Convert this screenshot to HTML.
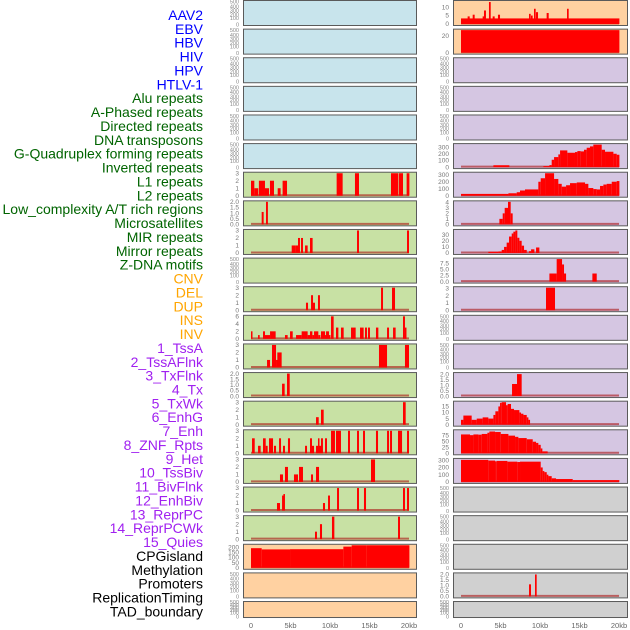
<!DOCTYPE html>
<html><head><meta charset="utf-8"><style>
html,body{margin:0;padding:0;background:#fff;width:630px;height:630px;overflow:hidden}
svg{display:block}
text{font-family:"Liberation Sans",sans-serif}
</style></head><body>
<svg id="chart" width="630" height="630" viewBox="0 0 630 630" xmlns="http://www.w3.org/2000/svg">
<g id="labels"></g>
<g id="panels"></g>
<g id="xaxes"></g>
</svg>
<script>
// ---- track names ----
const trackNames = ["AAV2","EBV","HBV","HIV","HPV","HTLV-1","Alu repeats","A-Phased repeats","Directed repeats","DNA transposons","G-Quadruplex forming repeats","Inverted repeats","L1 repeats","L2 repeats","Low_complexity A/T rich regions","Microsatellites","MIR repeats","Mirror repeats","Z-DNA motifs","CNV","DEL","DUP","INS","INV","1_TssA","2_TssAFlnk","3_TxFlnk","4_Tx","5_TxWk","6_EnhG","7_Enh","8_ZNF_Rpts","9_Het","10_TssBiv","11_BivFlnk","12_EnhBiv","13_ReprPC","14_ReprPCWk","15_Quies","CPGisland","Methylation","Promoters","ReplicationTiming","TAD_boundary"];
const trackGroups = ["virus","virus","virus","virus","virus","virus","repeat","repeat","repeat","repeat","repeat","repeat","repeat","repeat","repeat","repeat","repeat","repeat","repeat","sv","sv","sv","sv","sv","chrom","chrom","chrom","chrom","chrom","chrom","chrom","chrom","chrom","chrom","chrom","chrom","chrom","chrom","chrom","other","other","other","other","other"];
const xTicks = [0,5,10,15,20];
const xTickLabels = ["0","5kb","10kb","15kb","20kb"];

// ---- series data: [startKb, endKb, value] ----
const aluRepeats = [[0,0.42,2],[0.42,0.92,1],[1.0,1.77,2],[1.77,2.28,1],[2.4,2.91,2],[3.38,3.75,1],[4.0,4.56,2],[10.84,11.6,3],[13.16,13.67,3],[17.72,18.65,3],[18.73,19.24,3],[19.7,20.05,3]];
const aPhased = [[1.35,1.6,1.1],[1.9,2.14,2]];
const directedRepeats = [[5.15,5.65,1],[5.65,5.95,1],[5.95,6.2,2],[6.33,6.58,2],[6.84,7.17,1],[7.47,7.8,2],[13.42,13.67,3],[19.75,20.0,3]];
const gQuad = [[6.96,7.22,1],[7.6,7.85,2],[7.85,8.1,1],[8.48,8.73,2],[16.46,16.71,3],[17.85,18.23,3]];
const invertedRepeats = [[0,0.15,2],[0.89,1.1,1],[1.52,1.77,2],[1.77,2.41,1],[2.41,3.12,2],[4.3,4.64,1],[4.94,5.28,2],[5.7,6.41,1],[6.41,7.17,2],[7.17,7.47,1],[7.47,7.77,2],[7.77,7.98,1],[7.98,8.52,2],[8.52,8.78,1],[8.86,9.37,2],[9.37,9.5,1],[9.5,9.87,2],[9.87,10.04,1],[10.13,10.46,6],[10.76,11.06,3],[11.39,11.73,3],[12.66,13.25,3],[13.8,14.26,3],[14.43,14.68,3],[14.81,15.06,3],[15.82,16.12,3],[17.22,17.47,3],[17.98,18.31,3],[19.24,19.49,6],[19.49,19.66,3]];
const l1Repeats = [[2.03,2.41,1],[2.66,3.17,3],[3.17,3.33,1],[3.33,3.88,2],[16.2,17.22,3],[19.49,20.0,3]];
const l2Repeats = [[3.93,4.26,1.1],[4.56,4.9,2]];
const lowComplexity = [[8.23,8.57,1],[8.86,9.2,2],[19.24,19.58,3]];
const microsatellites = [[0.13,0.47,2],[0.89,1.22,1],[1.52,1.86,2],[1.86,2.11,1],[2.28,2.79,2],[2.91,3.17,1],[3.55,3.8,2],[4.05,4.3,1],[4.68,4.94,2],[6.84,7.09,1],[7.47,7.72,2],[7.72,7.98,1],[8.23,8.48,1],[8.48,8.61,2],[8.61,8.86,1],[8.86,9.11,2],[9.37,9.62,2],[10.13,10.63,3],[10.76,11.39,3],[12.28,12.53,3],[13.42,13.67,3],[14.18,14.43,3],[15.82,16.08,3],[17.22,17.47,3],[17.6,17.85,3],[18.61,19.12,3],[19.75,20.0,3]];
const mirRepeats = [[3.67,4.05,1],[4.3,4.68,2],[5.44,5.95,1],[6.08,6.58,2],[7.6,7.85,1],[8.23,8.61,2],[15.19,15.7,3]];
const mirrorRepeats = [[3.29,3.67,1],[3.93,4.1,2],[4.1,4.3,2.2],[9.11,9.37,1],[9.75,10.0,2],[10.89,11.14,3],[13.42,13.67,3],[14.3,14.56,3],[19.24,19.49,3],[19.75,20.0,3]];
const zdnaMotifs = [[8.1,8.35,1],[8.73,8.99,2],[10.25,10.55,3],[18.61,18.86,3]];
const cnvTrack = [[0,1.35,190],[1.35,4.94,178],[4.94,11.69,180],[11.69,12.74,205],[12.74,14.64,222],[14.64,20.05,224]];
const insTrack = [[0,20.05,3.3],[0.84,1.1,4.5],[1.48,1.73,5.5],[2.74,2.91,4.5],[2.91,3.16,8],[3.54,3.76,13],[4.01,4.26,4.5],[4.68,4.94,5.5],[8.61,8.82,6],[8.86,9.07,5],[9.24,9.45,9],[9.49,9.75,7],[10.84,11.1,6.5],[13.42,13.63,9]];
const invTrack = [[0,20.05,30]];
const txTrack = [[4.1,6.12,28],[10.43,11.19,15],[11.19,11.48,30],[11.48,11.78,110],[11.78,12.32,150],[12.32,12.54,190],[12.54,13.46,250],[13.46,14.43,215],[14.43,14.73,225],[14.73,15.15,240],[15.15,15.57,235],[15.57,15.91,260],[15.91,16.33,290],[16.33,16.75,310],[16.75,17.81,340],[17.81,18.23,260],[18.23,19.29,230],[19.29,19.71,200],[19.71,20.05,185]];
const txWkTrack = [[0,6.0,26],[6.0,7.05,35],[7.05,7.47,50],[7.47,8.1,75],[8.1,9.79,90],[9.79,10.09,200],[10.09,10.64,250],[10.64,11.78,330],[11.78,12.32,240],[12.32,12.75,170],[12.75,13.3,130],[13.3,13.8,150],[13.8,14.65,180],[14.65,15.7,190],[15.7,16.12,170],[16.12,16.75,110],[16.75,17.18,95],[17.18,17.6,90],[17.6,18.02,140],[18.02,18.44,160],[18.44,19.08,170],[19.08,19.71,200],[19.71,20.05,210]];
const enhGTrack = [[4.86,5.28,1],[5.28,5.53,2],[5.53,5.95,3],[5.95,6.29,4.2],[6.29,6.54,2]];
const enhTrack = [[3.46,4.73,2],[4.73,5.15,2.5],[5.15,5.45,5],[5.45,5.78,10],[5.78,6.08,17],[6.08,6.42,27],[6.42,6.63,32],[6.63,6.88,35],[6.88,7.13,37],[7.13,7.39,25],[7.39,7.68,20],[7.68,7.98,12],[7.98,8.32,5],[8.61,8.87,3],[8.87,9.29,6],[9.5,9.92,9]];
const znfTrack = [[11.19,12.11,3.3],[12.11,12.79,9.2],[12.79,13.04,7],[13.04,13.3,3.3],[16.63,17.18,3.3]];
const hetTrack = [[10.76,11.9,3.1]];
const enhBivTrack = [[6.46,7.09,1.1],[7.09,7.68,2]];
const reprPCTrack = [[0,0.3,4],[0.3,1.35,7.5],[1.35,1.99,4],[1.99,2.74,5],[2.74,3.46,6],[3.46,4.1,5],[4.1,4.35,8],[4.35,4.73,11],[4.73,4.94,15],[4.94,5.15,18],[5.15,5.7,18.5],[5.7,5.91,16],[5.91,6.33,17],[6.33,6.71,13],[6.71,7.39,12],[7.39,7.6,10],[7.6,7.9,9],[7.9,8.32,8],[8.32,8.53,6],[8.53,8.74,4]];
const reprPCWkTrack = [[0,1.14,78],[1.14,1.57,75],[1.57,2.2,78],[2.2,2.62,77],[2.62,3.34,80],[3.34,3.59,85],[3.59,4.31,90],[4.31,5.03,88],[5.03,6.0,80],[6.0,6.84,73],[6.84,7.26,68],[7.26,8.32,63],[8.32,9.08,58],[9.08,9.5,48],[9.5,9.79,43],[9.79,10.09,35],[10.09,10.3,20],[10.3,10.97,8]];
const quiesTrack = [[0,3.46,305],[3.46,4.31,295],[4.31,4.52,285],[4.52,5.87,290],[5.87,7.13,280],[7.13,7.47,275],[7.47,10.09,280],[10.09,10.34,200],[10.34,10.55,150],[10.55,10.85,135],[10.85,11.06,100],[11.06,11.48,80],[11.48,12.03,50],[12.03,14.14,40],[14.14,20.04,25]];
const replicationTiming = [[8.61,8.86,1.1],[9.37,9.58,2]];

// ---- tick label sets ----
const t3 = ["0","1","2","3"], t2 = ["0.0","0.5","1.0","1.5","2.0"], t6 = ["0","2","4","6"];
const emptyTicks = ["0","100","200","300","400","500"];

// panel definitions: [col,row,color,data,ymax,tickValues,tickLabels]
const BLUE="#c8e4ec",GREEN="#c8e1a4",PEACH="#ffd1a1",LAV="#d5c6e2",GRAY="#d0d0d0";
const panelDefs = [
 [0,0,BLUE],[0,1,BLUE],[0,2,BLUE],[0,3,BLUE],[0,4,BLUE],[0,5,BLUE],
 [0,6,GREEN,aluRepeats,3,[0,1,2,3],t3],
 [0,7,GREEN,aPhased,2,[0,0.5,1,1.5,2],t2],
 [0,8,GREEN,directedRepeats,3,[0,1,2,3],t3],
 [0,9,GREEN],
 [0,10,GREEN,gQuad,3,[0,1,2,3],t3],
 [0,11,GREEN,invertedRepeats,6,[0,2,4,6],t6],
 [0,12,GREEN,l1Repeats,3,[0,1,2,3],t3],
 [0,13,GREEN,l2Repeats,2,[0,0.5,1,1.5,2],t2],
 [0,14,GREEN,lowComplexity,3,[0,1,2,3],t3],
 [0,15,GREEN,microsatellites,3,[0,1,2,3],t3],
 [0,16,GREEN,mirRepeats,3,[0,1,2,3],t3],
 [0,17,GREEN,mirrorRepeats,3,[0,1,2,3],t3],
 [0,18,GREEN,zdnaMotifs,3,[0,1,2,3],t3],
 [0,19,PEACH,cnvTrack,218,[0,50,100,150,200],["0","50","100","150","200"]],
 [0,20,PEACH],[0,21,PEACH],
 [1,0,PEACH,insTrack,13.3,[0,5,10],["0","5","10"]],
 [1,1,PEACH,invTrack,27,[0,20],["0","20"]],
 [1,2,LAV],[1,3,LAV],[1,4,LAV],
 [1,5,LAV,txTrack,337,[0,100,200,300],["0","100","200","300"]],
 [1,6,LAV,txWkTrack,322,[0,100,200,300],["0","100","200","300"]],
 [1,7,LAV,enhGTrack,4.1,[0,1,2,3,4],["0","1","2","3","4"]],
 [1,8,LAV,enhTrack,37,[0,10,20,30],["0","10","20","30"]],
 [1,9,LAV,znfTrack,9.2,[0,2.5,5,7.5],["0.0","2.5","5.0","7.5"]],
 [1,10,LAV,hetTrack,3.1,[0,1,2,3],t3],
 [1,11,LAV],[1,12,LAV],
 [1,13,LAV,enhBivTrack,2.05,[0,0.5,1,1.5,2],t2],
 [1,14,LAV,reprPCTrack,18.5,[0,5,10,15],["0","5","10","15"]],
 [1,15,LAV,reprPCWkTrack,93,[0,25,50,75],["0","25","50","75"]],
 [1,16,LAV,quiesTrack,311,[0,100,200,300],["0","100","200","300"]],
 [1,17,GRAY],[1,18,GRAY],[1,19,GRAY],
 [1,20,GRAY,replicationTiming,2.05,[0,0.5,1,1.5,2],t2],
 [1,21,GRAY]
];

const NS="http://www.w3.org/2000/svg";
function mk(tag,attrs,parent){const e=document.createElementNS(NS,tag);for(const k in attrs)e.setAttribute(k,attrs[k]);parent.appendChild(e);return e;}
const colX=[243,453], colW=[173,174], x0=[251,461], pxPerKb=7.9;
function rowTop(r){return r*28.62;}
function rowH(r){return r===21?16:25;}
function xScale(col,kb){return x0[col]+Math.max(0,Math.min(20.1,kb))*pxPerKb;}

// labels
const colorMap={virus:"#0000ff",repeat:"#006400",sv:"#ffa500",chrom:"#a020f0",other:"#000000"};
const lg=document.getElementById("labels");
trackNames.forEach((n,i)=>{
  const t=mk("text",{x:203,y:(15+i*13.87+5).toFixed(1),"text-anchor":"end","font-size":"14",fill:colorMap[trackGroups[i]]},lg);
  t.textContent=n;
  
  
});

// panels
const pg=document.getElementById("panels");
const emptyFrac=[0.97,0.72,0.57,0.42,0.25,0.06];
panelDefs.forEach(d=>{
  const [col,row,color,data,ymax,tv,tl]=d;
  const top=rowTop(row), h=rowH(row), left=colX[col], w=colW[col];
  const g=mk("g",{},pg);
  
  
  const bg=mk("rect",{x:left+0.5,y:top+0.5,width:w,height:h,fill:color,stroke:"#5a5a5a","stroke-width":1},g);
  
  
  const yb=top+h-1, yt=top+1.5;
  const yScale=v=>yb-(Math.min(v,ymax)/ymax)*(yb-yt);
  if(data){
    const base=mk("line",{x1:xScale(col,0),x2:xScale(col,20),y1:yb-0.5,y2:yb-0.5,stroke:"rgba(170,20,20,0.6)","stroke-width":2},g);
    
    
    data.forEach(b=>{
      const xa=xScale(col,b[0]), xb=xScale(col,b[1]), y=yScale(b[2]);
      const r=mk("rect",{x:xa.toFixed(2),y:y.toFixed(2),width:Math.max(1.5,xb-xa).toFixed(2),height:(yb-y).toFixed(2),fill:"#ff0000"},g);
      
      
    });
    tv.forEach((v,i)=>{
      const t=mk("text",{x:left-4,y:(yScale(v)+2.2).toFixed(1),"text-anchor":"end","font-size":"6.5",fill:"#777"},g);
      t.textContent=tl[i];
      
      
    });
  } else {
    emptyTicks.forEach((lab,i)=>{
      const t=mk("text",{x:left-4,y:(top+emptyFrac[i]*h+2).toFixed(1),"text-anchor":"end","font-size":"5.5",fill:"#888"},g);
      t.textContent=lab;
      
      
    });
  }
});

// x axes
const xg=document.getElementById("xaxes");
[0,1].forEach(col=>{
  xTicks.forEach((v,i)=>{
    const t=mk("text",{x:xScale(col,v),y:628,"text-anchor":"middle","font-size":"7.5",fill:"#666"},xg);
    t.textContent=xTickLabels[i];
    
    
  });
});
</script>
</body></html>
